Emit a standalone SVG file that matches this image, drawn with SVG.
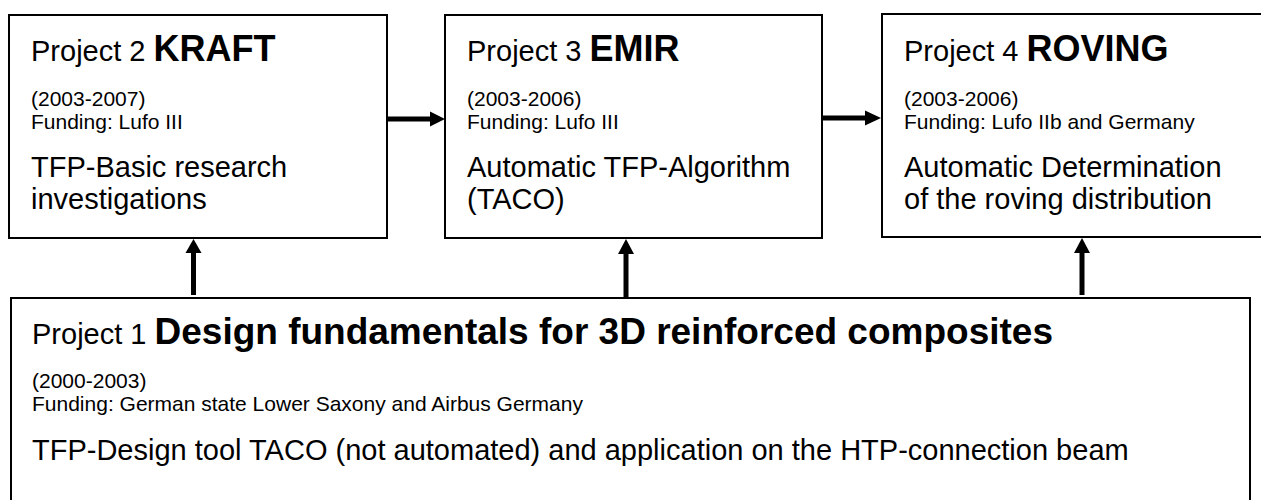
<svg xmlns="http://www.w3.org/2000/svg" width="1261" height="500" viewBox="0 0 1261 500">
  <style>
    .box { fill: #ffffff; stroke: #000000; stroke-width: 2; }
    text { font-family: "Liberation Sans", Arial, sans-serif; fill: #000000; }
    .lbl { font-size: 29px; }
    .ttl { font-size: 36px; font-weight: bold; }
    .sm { font-size: 21px; }
    .body { font-size: 29px; }
    .conn line { stroke: #000000; stroke-width: 5; }
    .conn polygon { fill: #000000; }
  </style>
  <rect x="0" y="0" width="1261" height="500" fill="#ffffff"/>

  <g id="connectors" class="conn">
    <line x1="387" y1="119" x2="431" y2="119"/>
    <polygon points="430,111.5 445,119 430,126.5"/>
    <line x1="822" y1="118" x2="866" y2="118"/>
    <polygon points="865,110.5 881,118 865,125.5"/>
    <line x1="193.5" y1="295" x2="193.5" y2="252"/>
    <polygon points="185.5,253 193.5,239 201.5,253"/>
    <line x1="626" y1="297" x2="626" y2="253"/>
    <polygon points="618,254 626,239 634,254"/>
    <line x1="1082" y1="295" x2="1082" y2="252"/>
    <polygon points="1074,253 1082,238 1090,253"/>
  </g>

  <g id="node-kraft">
    <rect class="box" x="9" y="15" width="378" height="223"/>
    <text x="31" y="61"><tspan class="lbl">Project 2 </tspan><tspan class="ttl">KRAFT</tspan></text>
    <text class="sm" x="31" y="106">(2003-2007)</text>
    <text class="sm" x="31" y="129">Funding: Lufo III</text>
    <text class="body" x="31" y="177">TFP-Basic research</text>
    <text class="body" x="31" y="209">investigations</text>
  </g>

  <g id="node-emir">
    <rect class="box" x="445" y="15" width="377" height="223"/>
    <text x="467" y="61"><tspan class="lbl">Project 3 </tspan><tspan class="ttl">EMIR</tspan></text>
    <text class="sm" x="467" y="106">(2003-2006)</text>
    <text class="sm" x="467" y="129">Funding: Lufo III</text>
    <text class="body" x="467" y="177">Automatic TFP-Algorithm</text>
    <text class="body" x="467" y="209">(TACO)</text>
  </g>

  <g id="node-roving">
    <rect class="box" x="882" y="14" width="390" height="223"/>
    <text x="904" y="61"><tspan class="lbl">Project 4 </tspan><tspan class="ttl">ROVING</tspan></text>
    <text class="sm" x="904" y="106">(2003-2006)</text>
    <text class="sm" x="904" y="129">Funding: Lufo IIb and Germany</text>
    <text class="body" x="904" y="177">Automatic Determination</text>
    <text class="body" x="904" y="209">of the roving distribution</text>
  </g>

  <g id="node-design">
    <rect class="box" x="11" y="298" width="1239" height="215"/>
    <text x="32" y="344"><tspan class="lbl">Project 1 </tspan><tspan class="ttl" style="font-size:37px">Design fundamentals for 3D reinforced composites</tspan></text>
    <text class="sm" x="32" y="388">(2000-2003)</text>
    <text class="sm" x="32" y="411">Funding: German state Lower Saxony and Airbus Germany</text>
    <text class="body" x="32" y="460">TFP-Design tool TACO (not automated) and application on the HTP-connection beam</text>
  </g>
</svg>
